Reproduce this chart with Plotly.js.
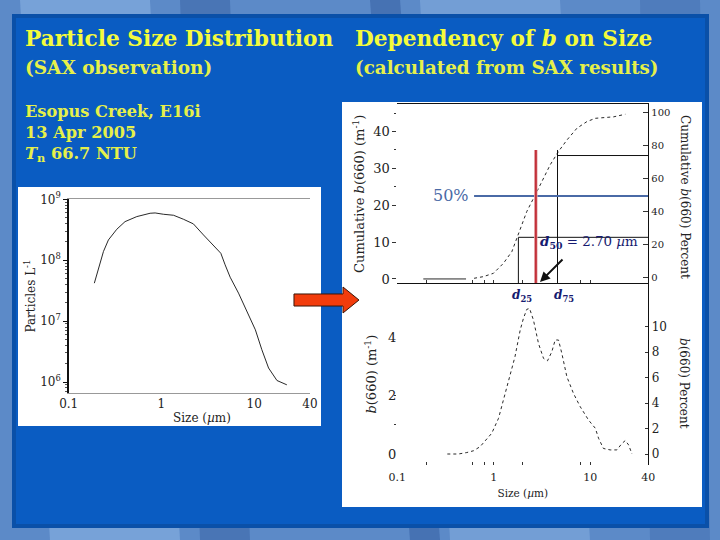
<!DOCTYPE html>
<html><head><meta charset="utf-8">
<script src="https://cdn.plot.ly/plotly-3.0.1.min.js"></script>
<style>html,body{margin:0;padding:0;background:#5c8ac8}</style></head>
<body><div id="chart" style="width:720px;height:540px"></div>
<script>
// Particle size distribution (left panel)
const psdSize = [0.189,0.209,0.237,0.268,0.330,0.405,0.542,0.755,0.855,1.05,1.35,1.73,2.21,2.84,3.64,4.37,4.86,5.51,6.78,8.34,10.3,12.1,14.3,17.6,22.5];
const psdParticles = [4.2e7,7.4e7,1.39e8,2.15e8,3.22e8,4.3e8,5.2e8,5.9e8,5.97e8,5.68e8,5.47e8,4.7e8,3.95e8,2.6e8,1.78e8,1.3e8,8.4e7,5.26e7,2.88e7,1.44e7,7.2e6,3.39e6,1.7e6,1.06e6,9.0e5];
// Cumulative b(660) (upper right panel)
const cumFlatSize = [0.186,0.516];
const cumFlatB = [0,0];
const cumSize = [0.625,0.781,0.993,1.26,1.54,1.80,2.20,2.69,3.28,3.85,4.69,5.73,7.28,9.23,11.3,13.7,17.5,23.1];
const cumB = [0.18,0.63,1.54,4.25,7.42,11.95,18.3,22.8,27.3,31,34.6,37.7,40.9,42.7,43.6,43.8,44,44.7];
// b(660) by size (lower right panel)
const bSize = [0.330,0.430,0.525,0.615,0.721,0.846,0.953,1.12,1.26,1.48,1.66,1.88,2.03,2.20,2.35,2.58,2.91,3.28,3.61,4.0,4.33,4.69,5.08,5.73,6.71,7.87,9.61,11.3,12.2,13.7,16.1,18.9,21.3,23.1,25,27.1];
const bValue = [0,0,0.05,0.11,0.25,0.5,0.71,1.22,1.85,2.70,3.33,4.24,4.64,4.95,4.98,4.58,3.78,3.27,3.19,3.5,3.9,3.9,3.44,2.64,2.07,1.62,1.16,0.88,0.54,0.19,0.14,0.14,0.36,0.46,0.31,0];
// Marker lines
const d25 = 1.80, d50 = 2.73, d75 = 4.58;
const b25 = 11.3, b50 = 22.5, b75 = 33.5;
// Ticks
const sizeTicks = [0.1,1,10,40];
const sizeTickText = ['0.1','1','10','40'];
const sizeMinor = [0.2,0.6,0.8,1,2,8,10];
const psdTicks = [1e6,1e7,1e8,1e9];
const psdTickText = ['10<sup>6</sup>','10<sup>7</sup>','10<sup>8</sup>','10<sup>9</sup>'];
const psdMinor = [7e5,8e5,9e5,2e6,3e6,4e6,5e6,6e6,7e6,8e6,9e6,2e7,3e7,4e7,5e7,6e7,7e7,8e7,9e7,2e8,3e8,4e8,5e8,6e8,7e8,8e8,9e8];

const SERIF = '"DejaVu Serif", serif';
const TICK = '#222';
const fx = p => p/720, fy = p => 1-p/540;
const dom = (a,b) => [a,b];
const curve = (x,y,xa,ya,dash) => ({x,y,xaxis:xa,yaxis:ya,mode:'lines',type:'scatter',showlegend:false,hoverinfo:'skip',
  line:{color:'#111',width:0.9,dash:dash||'dot'}});
const rule = (x,y,xa,ya,color,width) => ({x,y,xaxis:xa,yaxis:ya,mode:'lines',type:'scatter',showlegend:false,hoverinfo:'skip',cliponaxis:false,
  line:{color,width}});

const traces = [
  curve(psdSize,psdParticles,'x','y','solid'),
  curve(cumFlatSize,cumFlatB,'x2','y2','solid'),
  curve(cumSize,cumB,'x2','y2'),
  curve([],[],'x2','y3'),
  rule([d25,d25],[-1.18,b25],'x2','y2','#111',1),
  rule([d25,47.3],[b25,b25],'x2','y2','#111',1),
  rule([d75,d75],[-1.18,35],'x2','y2','#111',1),
  rule([d75,43.6],[b75,b75],'x2','y2','#111',1),
  rule([0.625,53.3],[b50,b50],'x2','y2','#4a6aa6',2),
  rule([d50,d50],[-2.35,35],'x2','y2','#e8b0b0',3.5),
  rule([d50,d50],[-2.35,35],'x2','y2','#c2303a',2),
  curve(bSize,bValue,'x3','y4'),
  curve([],[],'x3','y5')
];
const txt = (text,x,y,size,color,extra) => Object.assign({text,x:fx(x),y:fy(y),xref:'paper',yref:'paper',xanchor:'left',yanchor:'middle',showarrow:false,
  font:{family:SERIF,size,color}},extra||{});
const YEL = '#f4fb3c';
const annotations = [
  txt('<b>Particle Size Distribution</b>',23,39,21.7,YEL),
  txt('<b>Dependency of <i>b</i> on Size</b>',353,39,21.7,YEL),
  txt('<b>(SAX observation)</b>',23,68,18.5,'#e6f04a'),
  txt('<b>(calculated from SAX results)</b>',353,68,18.3,'#e6f04a'),
  txt('<b>Esopus Creek, E16i</b>',23,112,16.2,'#e6f04a'),
  txt('<b>13 Apr 2005</b>',23,133,16.2,'#e6f04a'),
  txt('<b><i>T</i><sub>n</sub> 66.7 NTU</b>',23,154,16.2,'#e6f04a'),
  txt('50%',431,196,16,'#4a6aa6'),
  txt('<b><i>d</i><sub>50</sub></b> = 2.70 <i>µ</i>m',538,242,13.4,'#161a70'),
  txt('<b><i>d</i><sub>25</sub></b>',510,296,12,'#161a70'),
  txt('<b><i>d</i><sub>75</sub></b>',552,296,12,'#161a70'),
  txt('Size (<i>µ</i>m)',171,418,12,TICK),
  txt('Cumulative <i>b</i>(660) Percent',685,197,12,TICK,{xanchor:'center',textangle:90}),
  txt('<i>b</i>(660) Percent',684,383,12,TICK,{xanchor:'center',textangle:90}),
  {x:fx(540),y:fy(282),xref:'paper',yref:'paper',ax:24,ay:-24,axref:'pixel',ayref:'pixel',text:'',showarrow:true,arrowhead:2,arrowsize:1,arrowwidth:2,arrowcolor:'#111'}
];
const band = (x0,y0,x1,y1,fill,line,lw,layer) => ({type:'rect',xref:'paper',yref:'paper',x0:fx(x0),x1:fx(x1),y0:fy(y0),y1:fy(y1),
  fillcolor:fill,line:{color:line||fill,width:lw||0},layer:layer||'below'});
const P=(x,y)=>fx(x).toFixed(4)+','+fy(y).toFixed(4);
const streak = (x0,x1,skew,fill) => ({type:'path',xref:'paper',yref:'paper',layer:'below',fillcolor:fill,line:{width:0},
  path:'M'+P(x0,0)+' L'+P(x1,0)+' L'+P(x1+skew,540)+' L'+P(x0+skew,540)+' Z'});
const shapes = [
  streak(20,150,30,'rgba(170,205,245,0.35)'),
  streak(180,230,20,'rgba(30,70,140,0.3)'),
  streak(370,400,40,'rgba(30,70,140,0.35)'),
  streak(420,560,30,'rgba(170,205,245,0.3)'),
  streak(640,700,10,'rgba(30,70,140,0.2)'),
  band(14,16,707,526,'#0a5cc2','#0a50a8',4),
  band(18,187,321,426,'#ffffff'),
  band(342,102,702,507,'#ffffff'),
  {type:'path',xref:'paper',yref:'paper',layer:'above',fillcolor:'#f23c0c',line:{color:'#3a1608',width:1},
   path:'M'+P(294,294)+' L'+P(343,294)+' L'+P(343,287)+' L'+P(359,300)+' L'+P(343,313)+' L'+P(343,306)+' L'+P(294,306)+' Z'}
];
const logR = [-1, Math.log10(40)];
const tf = s => ({family:SERIF,size:s,color:TICK});
const layout = {
  width:720,height:540,margin:{l:0,r:0,t:0,b:0},paper_bgcolor:'#5c8ac8',plot_bgcolor:'rgba(0,0,0,0)',showlegend:false,
  annotations,shapes,
  xaxis:{domain:dom(fx(68.7),fx(310)),anchor:'y',type:'log',range:logR,tickmode:'array',tickvals:sizeTicks,ticktext:sizeTickText,
    tickfont:tf(12),ticks:'',showline:true,linecolor:'#999',linewidth:1,mirror:true,showgrid:false,zeroline:false},
  yaxis:{domain:dom(fy(393),fy(199.3)),anchor:'x',type:'log',range:[5.82,9],tickmode:'array',tickvals:psdTicks,ticktext:psdTickText,
    tickfont:tf(12),ticks:'outside',ticklen:4,tickcolor:'#111',showline:true,linecolor:'#111',linewidth:1.5,showgrid:false,zeroline:false,
    minor:{tickmode:'array',tickvals:psdMinor,ticks:'outside',ticklen:2,tickcolor:'#555',showgrid:false},
    title:{text:'Particles L<sup>-1</sup>',font:tf(12),standoff:2}},
  xaxis2:{domain:dom(fx(397.3),fx(648.3)),anchor:'y2',type:'log',range:logR,tickmode:'array',tickvals:sizeMinor,showticklabels:false,
    ticks:'inside',ticklen:3,tickcolor:'#333',showline:true,linecolor:'#111',linewidth:1,mirror:true,showgrid:false,zeroline:false},
  yaxis2:{domain:dom(fy(283.3),fy(104.3)),anchor:'x2',range:[-1.18,47.4],tickmode:'array',tickvals:[0,10,20,30,40],
    tickfont:tf(13),ticks:'outside',ticklen:4,tickcolor:'#333',showline:false,showgrid:false,zeroline:false,
    minor:{tickmode:'array',tickvals:[25,35,45],ticks:'outside',ticklen:2,tickcolor:'#333'},
    title:{text:'Cumulative <i>b</i>(660) (m<sup>-1</sup>)',font:tf(13),standoff:5}},
  yaxis3:{domain:dom(fy(283.3),fy(104.3)),anchor:'x2',overlaying:'y2',side:'right',range:[-3.4,104.8],tickmode:'array',tickvals:[0,20,40,60,80,100],
    tickfont:tf(10),ticks:'inside',ticklen:5,tickcolor:'#333',showline:true,linecolor:'#111',linewidth:1,showgrid:false,zeroline:false,visible:true},
  xaxis3:{domain:dom(fx(397.3),fx(648.3)),anchor:'y4',type:'log',range:logR,tickmode:'array',tickvals:sizeTicks,ticktext:sizeTickText,
    tickfont:tf(11),ticks:'',showline:false,showgrid:false,zeroline:false,ticklabelstandoff:4,
    minor:{tickmode:'array',tickvals:sizeMinor,ticks:'inside',ticklen:3,tickcolor:'#333'},
    title:{text:'Size (<i>µ</i>m)',font:tf(10.5),standoff:6}},
  yaxis4:{domain:dom(fy(465),fy(283.3)),anchor:'x3',range:[-0.376,5.84],tickmode:'array',tickvals:[0,2,4],
    tickfont:tf(13),ticks:'',showline:false,showgrid:false,zeroline:false,
    minor:{tickmode:'array',tickvals:[1,2],ticks:'outside',ticklen:2,tickcolor:'#333'},
    title:{text:'<i>b</i>(660) (m<sup>-1</sup>)',font:tf(13),standoff:8}},
  yaxis5:{domain:dom(fy(465),fy(283.3)),anchor:'x3',overlaying:'y4',side:'right',range:[-0.864,13.41],tickmode:'array',tickvals:[0,2,4,6,8,10],
    tickfont:tf(12),ticks:'inside',ticklen:3,tickcolor:'#333',showline:true,linecolor:'#111',linewidth:1,showgrid:false,zeroline:false,visible:true}
};
Plotly.newPlot('chart',traces,layout,{displayModeBar:false,staticPlot:true});
</script></body></html>
